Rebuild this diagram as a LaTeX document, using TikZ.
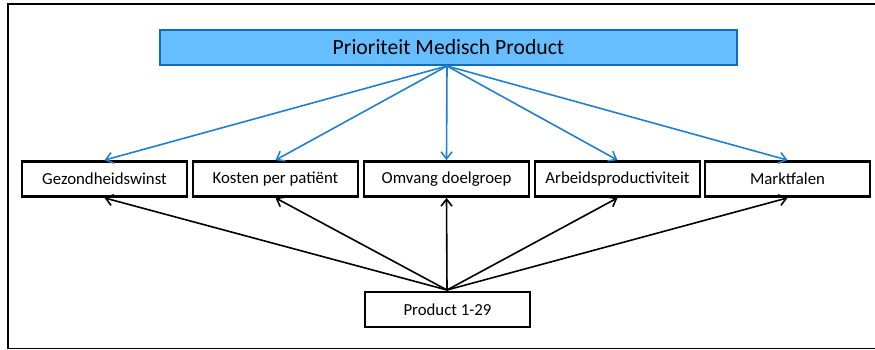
\documentclass[tikz,border=0pt]{standalone}
\usepackage{fontspec}
\setmainfont{Carlito}
\usetikzlibrary{arrows.meta}
\definecolor{topfill}{HTML}{66BEFF}
\definecolor{topborder}{HTML}{0A70BE}
\definecolor{arrblue}{HTML}{2080D0}
\begin{document}
\begin{tikzpicture}[x=1pt,y=-1pt,
  crit/.style={draw=black, line width=2.8pt, minimum width=165pt, minimum height=35pt, inner sep=0pt, font=\fontsize{16.8}{19}\selectfont},
  topbox/.style={draw=topborder, fill=topfill, line width=2.6pt, minimum width=577pt, minimum height=35pt, inner sep=0pt, font=\fontsize{21.7}{25}\selectfont},
  bluearr/.style={draw=arrblue, line width=1.6pt, -{Straight Barb[length=7pt,width=11pt]}},
  blackarr/.style={draw=black, line width=1.6pt, -{Straight Barb[length=7pt,width=11pt]}}]
\useasboundingbox (0,0) rectangle (875,349);
\draw[line width=2.4pt] (8,4.2) -- (876,4.2);
\draw[line width=2.4pt] (8,3) -- (8,348.3);
\draw[line width=1.6pt] (6.8,348.3) -- (876,348.3);
\node[topbox] (top) at (448.5,47.5) {Prioriteit Medisch Product};
\node[crit] (g) at (104.5,179) {Gezondheidswinst};
\node[crit] (k) at (275.5,179) {Kosten per patiënt};
\node[crit] (o) at (446.5,179) {Omvang doelgroep};
\node[crit] (a) at (617.5,179) {Arbeidsproductiviteit};
\node[crit] (m) at (787.5,179) {Marktfalen};
\node[crit] (p) at (447.5,309.5) {Product 1-29};
\coordinate (ts) at (447,66);
\coordinate (bs) at (447,290);
\foreach \n in {g,k,o,a,m}{
  \draw[bluearr] (ts) -- (\n.north);
  \draw[blackarr] (bs) -- (\n.south);
}
\end{tikzpicture}
\end{document}
